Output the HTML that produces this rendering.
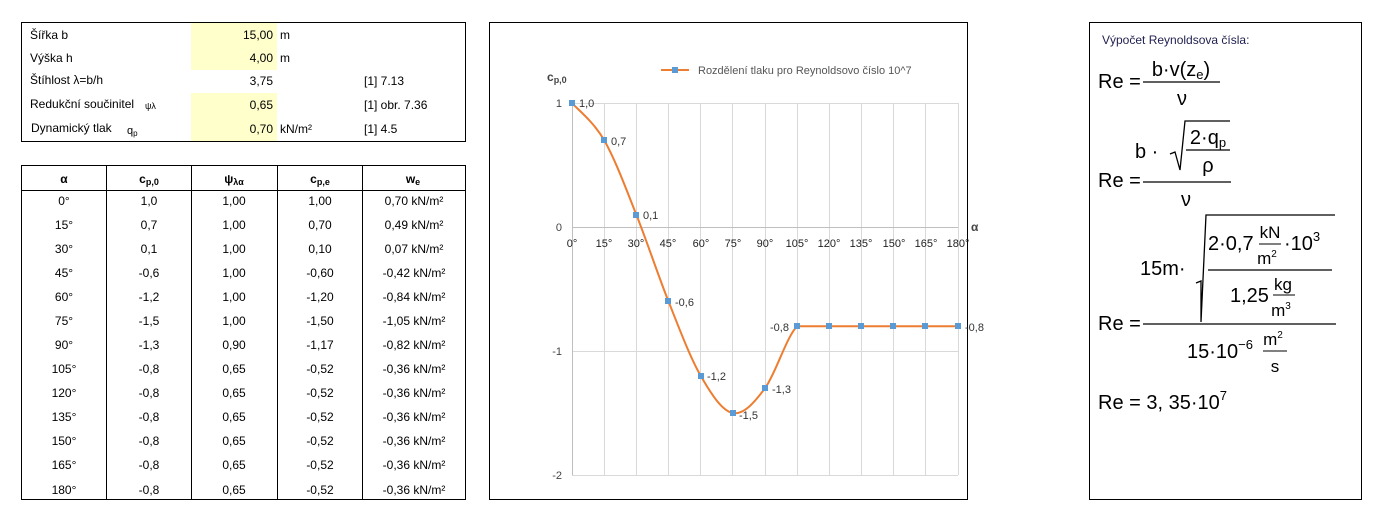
<!DOCTYPE html>
<html><head><meta charset="utf-8"><style>
body{margin:0;background:#fff;width:1384px;height:523px;overflow:hidden}
svg{font-family:"Liberation Sans",Arial,sans-serif}
</style></head><body>
<svg width="1384" height="523" xmlns="http://www.w3.org/2000/svg">
<!-- top table -->
<rect x="191" y="22" width="86" height="48" fill="#ffffcc"/>
<rect x="191" y="93" width="86" height="49" fill="#ffffcc"/>
<rect x="21.5" y="22.5" width="444" height="119" fill="none" stroke="#000"/>
<g font-size="12" fill="#000">
<text x="30" y="39">Šířka b</text><text x="273" y="39" text-anchor="end">15,00</text><text x="280" y="39">m</text>
<text x="30" y="62">Výška h</text><text x="273" y="62" text-anchor="end">4,00</text><text x="280" y="62">m</text>
<text x="30" y="84">Štíhlost   λ=b/h</text><text x="273" y="85" text-anchor="end">3,75</text><text x="364" y="85">[1] 7.13</text>
<text x="30" y="108">Redukční součinitel</text><text x="145" y="109" font-size="9">ψλ</text><text x="273" y="109" text-anchor="end">0,65</text><text x="364" y="109">[1]  obr. 7.36</text>
<text x="31" y="132">Dynamický tlak</text><text x="127" y="134" font-size="11">q<tspan font-size="8" dy="2">p</tspan></text><text x="273" y="133" text-anchor="end">0,70</text><text x="280" y="133">kN/m²</text><text x="364" y="133">[1] 4.5</text>
</g>
<!-- bottom table -->
<rect x="21.5" y="165.5" width="444" height="334" fill="none" stroke="#000"/>
<line x1="21" y1="190.5" x2="466" y2="190.5" stroke="#000"/>
<g stroke="#000"><line x1="106.5" y1="165" x2="106.5" y2="500"/><line x1="191.5" y1="165" x2="191.5" y2="500"/><line x1="277.5" y1="165" x2="277.5" y2="500"/><line x1="362.5" y1="165" x2="362.5" y2="500"/></g>
<g font-size="12" font-weight="bold" text-anchor="middle">
<text x="64" y="183">α</text>
<text x="149" y="183">c<tspan font-size="9" dy="2">p,0</tspan></text>
<text x="234" y="183">ψ<tspan font-size="9" dy="2">λα</tspan></text>
<text x="320" y="183">c<tspan font-size="9" dy="2">p,e</tspan></text>
<text x="413" y="183">w<tspan font-size="9" dy="2">e</tspan></text>
</g>
<g font-size="12" text-anchor="middle">
<text x="64" y="205">0°</text><text x="149" y="205">1,0</text><text x="234" y="205">1,00</text><text x="320" y="205">1,00</text><text x="414" y="205">0,70  kN/m²</text>
<text x="64" y="229">15°</text><text x="149" y="229">0,7</text><text x="234" y="229">1,00</text><text x="320" y="229">0,70</text><text x="414" y="229">0,49  kN/m²</text>
<text x="64" y="253">30°</text><text x="149" y="253">0,1</text><text x="234" y="253">1,00</text><text x="320" y="253">0,10</text><text x="414" y="253">0,07  kN/m²</text>
<text x="64" y="277">45°</text><text x="149" y="277">-0,6</text><text x="234" y="277">1,00</text><text x="320" y="277">-0,60</text><text x="414" y="277">-0,42  kN/m²</text>
<text x="64" y="301">60°</text><text x="149" y="301">-1,2</text><text x="234" y="301">1,00</text><text x="320" y="301">-1,20</text><text x="414" y="301">-0,84  kN/m²</text>
<text x="64" y="325">75°</text><text x="149" y="325">-1,5</text><text x="234" y="325">1,00</text><text x="320" y="325">-1,50</text><text x="414" y="325">-1,05  kN/m²</text>
<text x="64" y="349">90°</text><text x="149" y="349">-1,3</text><text x="234" y="349">0,90</text><text x="320" y="349">-1,17</text><text x="414" y="349">-0,82  kN/m²</text>
<text x="64" y="373">105°</text><text x="149" y="373">-0,8</text><text x="234" y="373">0,65</text><text x="320" y="373">-0,52</text><text x="414" y="373">-0,36  kN/m²</text>
<text x="64" y="397">120°</text><text x="149" y="397">-0,8</text><text x="234" y="397">0,65</text><text x="320" y="397">-0,52</text><text x="414" y="397">-0,36  kN/m²</text>
<text x="64" y="421">135°</text><text x="149" y="421">-0,8</text><text x="234" y="421">0,65</text><text x="320" y="421">-0,52</text><text x="414" y="421">-0,36  kN/m²</text>
<text x="64" y="445">150°</text><text x="149" y="445">-0,8</text><text x="234" y="445">0,65</text><text x="320" y="445">-0,52</text><text x="414" y="445">-0,36  kN/m²</text>
<text x="64" y="469">165°</text><text x="149" y="469">-0,8</text><text x="234" y="469">0,65</text><text x="320" y="469">-0,52</text><text x="414" y="469">-0,36  kN/m²</text>
<text x="64" y="494">180°</text><text x="149" y="494">-0,8</text><text x="234" y="494">0,65</text><text x="320" y="494">-0,52</text><text x="414" y="494">-0,36  kN/m²</text>
</g>
<!-- chart -->
<rect x="489.5" y="22.5" width="478" height="477" fill="none" stroke="#000"/>
<g stroke="#d9d9d9" stroke-width="1">
<line x1="572" y1="103.5" x2="958" y2="103.5"/><line x1="572" y1="351.5" x2="958" y2="351.5"/><line x1="572" y1="475.5" x2="958" y2="475.5"/>
<line x1="604.5" y1="103" x2="604.5" y2="475"/><line x1="636.5" y1="103" x2="636.5" y2="475"/><line x1="668.5" y1="103" x2="668.5" y2="475"/><line x1="700.5" y1="103" x2="700.5" y2="475"/><line x1="732.5" y1="103" x2="732.5" y2="475"/><line x1="765.5" y1="103" x2="765.5" y2="475"/><line x1="797.5" y1="103" x2="797.5" y2="475"/><line x1="829.5" y1="103" x2="829.5" y2="475"/><line x1="861.5" y1="103" x2="861.5" y2="475"/><line x1="893.5" y1="103" x2="893.5" y2="475"/><line x1="925.5" y1="103" x2="925.5" y2="475"/><line x1="958.5" y1="103" x2="958.5" y2="475"/>
</g>
<g stroke="#bfbfbf"><line x1="572" y1="227.5" x2="958" y2="227.5"/><line x1="572.5" y1="103" x2="572.5" y2="475"/></g>
<g font-size="11" fill="#444" text-anchor="end"><text x="562" y="107">1</text><text x="562" y="231">0</text><text x="562" y="355">-1</text><text x="562" y="479">-2</text></g>
<g font-size="11" fill="#222" text-anchor="middle">
<text x="572" y="247">0°</text><text x="604" y="247">15°</text><text x="636" y="247">30°</text><text x="668" y="247">45°</text><text x="701" y="247">60°</text><text x="733" y="247">75°</text><text x="765" y="247">90°</text><text x="797" y="247">105°</text><text x="829" y="247">120°</text><text x="861" y="247">135°</text><text x="894" y="247">150°</text><text x="926" y="247">165°</text><text x="958" y="247">180°</text>
</g>
<text x="547" y="81" font-size="12" font-weight="bold" fill="#444">c<tspan font-size="9" dy="2">p,0</tspan></text>
<text x="971" y="231" font-size="12" font-weight="bold" fill="#444">α</text>
<line x1="661" y1="70" x2="689" y2="70" stroke="#ed7d31" stroke-width="2"/><rect x="672" y="67" width="6" height="6" fill="#5b9bd5"/>
<text x="698" y="74" font-size="11" fill="#555">Rozdělení tlaku pro Reynoldsovo číslo 10^7</text>
<path d="M572,103 C577.4,109.2 593.5,121.6 604.2,140.2 C614.9,158.8 625.6,187.7 636.3,214.6 C647,241.5 657.8,274.5 668.5,301.4 C679.2,328.3 690,357.2 700.7,375.8 C711.4,394.4 722.1,410.9 732.8,413 C743.5,415.1 754.3,402.7 765,388.2 C775.7,373.7 786.5,336.5 797.2,326.2 L958,326.2" fill="none" stroke="#ed7d31" stroke-width="2"/>
<g fill="#5b9bd5">
<rect x="569" y="100" width="6" height="6"/><rect x="601" y="137" width="6" height="6"/><rect x="633" y="212" width="6" height="6"/><rect x="665" y="298" width="6" height="6"/><rect x="698" y="373" width="6" height="6"/><rect x="730" y="410" width="6" height="6"/><rect x="762" y="385" width="6" height="6"/><rect x="794" y="323" width="6" height="6"/><rect x="826" y="323" width="6" height="6"/><rect x="858" y="323" width="6" height="6"/><rect x="890" y="323" width="6" height="6"/><rect x="922" y="323" width="6" height="6"/><rect x="955" y="323" width="6" height="6"/>
</g>
<g font-size="11" fill="#333">
<text x="579" y="107">1,0</text><text x="611" y="145">0,7</text><text x="643" y="219">0,1</text><text x="675" y="306">-0,6</text><text x="707" y="380">-1,2</text><text x="739" y="419">-1,5</text><text x="772" y="393">-1,3</text><text x="770" y="331">-0,8</text><text x="965" y="331">-0,8</text>
</g>
<!-- formulas -->
<rect x="1089.5" y="22.5" width="272" height="477" fill="none" stroke="#000"/>
<text x="1102" y="44" font-size="12" fill="#1f1f4f">Výpočet Reynoldsova čísla:</text>
<g font-size="20" fill="#000">
<text x="1098" y="88">Re =</text>
<text x="1181" y="76" text-anchor="middle">b·v(z<tspan font-size="13" dy="3">e</tspan><tspan dy="-3">)</tspan></text>
<line x1="1143" y1="82" x2="1220" y2="82" stroke="#000" stroke-width="1.3"/>
<text x="1182" y="105" text-anchor="middle">ν</text>
<text x="1098" y="187">Re =</text>
<text x="1135" y="158">b ·</text>
<path d="M1170,154 L1175,152 L1180,170 L1185,121 L1230,121" fill="none" stroke="#000" stroke-width="1.3"/>
<text x="1208" y="144" text-anchor="middle">2·q<tspan font-size="13" dy="3">p</tspan></text>
<line x1="1186" y1="150" x2="1230" y2="150" stroke="#000" stroke-width="1.3"/>
<text x="1208" y="172" text-anchor="middle">ρ</text>
<line x1="1143" y1="182" x2="1231" y2="182" stroke="#000" stroke-width="1.3"/>
<text x="1186" y="206" text-anchor="middle">ν</text>
<text x="1098" y="330">Re =</text>
<text x="1140" y="275">15m·</text>
<path d="M1196,283 L1201,281 L1201,322 L1206,215 L1335,215" fill="none" stroke="#000" stroke-width="1.3"/>
<text x="1208" y="250">2·0,7</text>
<text x="1270" y="238" font-size="17" text-anchor="middle">kN</text>
<line x1="1259" y1="244" x2="1281" y2="244" stroke="#000"/>
<text x="1267" y="264" font-size="17" text-anchor="middle">m<tspan font-size="10" dy="-7">2</tspan></text>
<text x="1284" y="250">·10<tspan font-size="13" dy="-9">3</tspan></text>
<line x1="1208" y1="270" x2="1332" y2="270" stroke="#000" stroke-width="1.3"/>
<text x="1230" y="302">1,25</text>
<text x="1283" y="290" font-size="17" text-anchor="middle">kg</text>
<line x1="1273" y1="295" x2="1295" y2="295" stroke="#000"/>
<text x="1281" y="316" font-size="17" text-anchor="middle">m<tspan font-size="10" dy="-7">3</tspan></text>
<line x1="1143" y1="324" x2="1336" y2="324" stroke="#000" stroke-width="1.3"/>
<text x="1187" y="358">15·10<tspan font-size="13" dy="-9">−6</tspan></text>
<text x="1273" y="345" font-size="17" text-anchor="middle">m<tspan font-size="10" dy="-7">2</tspan></text>
<line x1="1263" y1="351" x2="1287" y2="351" stroke="#000"/>
<text x="1275" y="372" font-size="17" text-anchor="middle">s</text>
<text x="1098" y="409">Re = 3, 35·10<tspan font-size="13" dy="-9">7</tspan></text>
</g>
</svg>
</body></html>
